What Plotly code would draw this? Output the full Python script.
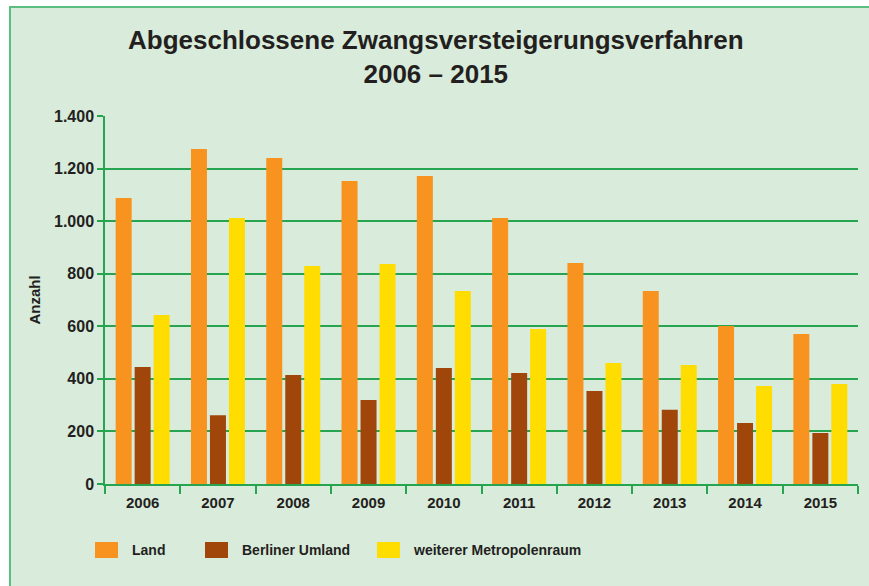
import plotly.graph_objects as go

years = ["2006", "2007", "2008", "2009", "2010", "2011", "2012", "2013", "2014", "2015"]
land = [1088, 1274, 1240, 1153, 1172, 1012, 841, 734, 601, 571]
berliner_umland = [445, 262, 415, 320, 441, 422, 354, 282, 232, 194]
weiterer_metropolenraum = [643, 1012, 829, 837, 734, 590, 460, 453, 373, 380]

series_names = ["Land", "Berliner Umland", "weiterer Metropolenraum"]
series_values = [land, berliner_umland, weiterer_metropolenraum]
colors = ["#f7931e", "#a0460a", "#ffdd00"]

W, H = 869, 586
L, R, T, B = 105, 11, 116, 102
PW, PH = W - L - R, H - T - B

def px(x):
    return (x - L) / PW

def py(y):
    return (H - B - y) / PH

FONT = "Liberation Sans, Arial, sans-serif"
TXT = "#231f20"
GREEN = "#27a44f"
BG = "#d9ebdb"

fig = go.Figure()
for name, vals, col in zip(series_names, series_values, colors):
    fig.add_trace(go.Bar(x=years, y=vals, name=name, marker=dict(color=col, line=dict(width=0)),
                         showlegend=False))

shapes = [
    dict(type="rect", xref="paper", yref="paper", x0=px(10), x1=px(W + 20), y0=py(7), y1=py(H + 20),
         fillcolor=BG, line=dict(color="#5cbd80", width=2), layer="below"),
]
annotations = [
    dict(text="<b>Abgeschlossene Zwangsversteigerungsverfahren<br>2006 – 2015</b>",
         xref="paper", yref="paper", x=px(436), y=py(57), xanchor="center", yanchor="middle",
         showarrow=False, font=dict(family=FONT, size=26, color=TXT)),
]
legend_sq = [95, 205, 377]
legend_tx = [130, 240, 411]
for name, col, sx, tx in zip(series_names, colors, legend_sq, legend_tx):
    shapes.append(dict(type="rect", xref="paper", yref="paper", x0=px(sx), x1=px(sx + 23),
                       y0=py(558), y1=py(542), fillcolor=col, line=dict(width=0)))
    annotations.append(dict(text="<b>" + name + "</b>", xref="paper", yref="paper", x=px(tx), y=py(550),
                            xanchor="left", yanchor="middle", showarrow=False,
                            font=dict(family=FONT, size=14, color=TXT)))

fig.update_layout(
    width=W, height=H,
    margin=dict(l=L, r=R, t=T, b=B, autoexpand=False),
    paper_bgcolor="white", plot_bgcolor="rgba(0,0,0,0)",
    barmode="group", bargap=0.243, bargroupgap=0.158,
    separators=",.",
    shapes=shapes, annotations=annotations,
    font=dict(family=FONT, color=TXT),
)
fig.update_xaxes(
    type="category", showgrid=False, showline=True, linecolor=GREEN, linewidth=1.5,
    ticks="outside", tickson="boundaries", ticklen=8, tickcolor=GREEN, tickwidth=1.5,
    tickfont=dict(family=FONT, size=15, color=TXT, weight="bold"), ticklabelstandoff=4,
)
fig.update_yaxes(
    range=[0, 1400], dtick=200, tickformat=",d", showgrid=True, gridcolor=GREEN, gridwidth=1.5,
    showline=True, linecolor=GREEN, linewidth=1.5, zeroline=False,
    ticks="outside", ticklen=6, tickcolor=GREEN, tickwidth=1.5,
    tickfont=dict(family=FONT, size=16, color=TXT, weight="bold"),
    title=dict(text="<b>Anzahl</b>", font=dict(family=FONT, size=15, color=TXT), standoff=10),
)

fig.write_html("out.html", config={"displayModeBar": False},
               post_script="document.body.style.margin='0';document.body.style.padding='0';")
